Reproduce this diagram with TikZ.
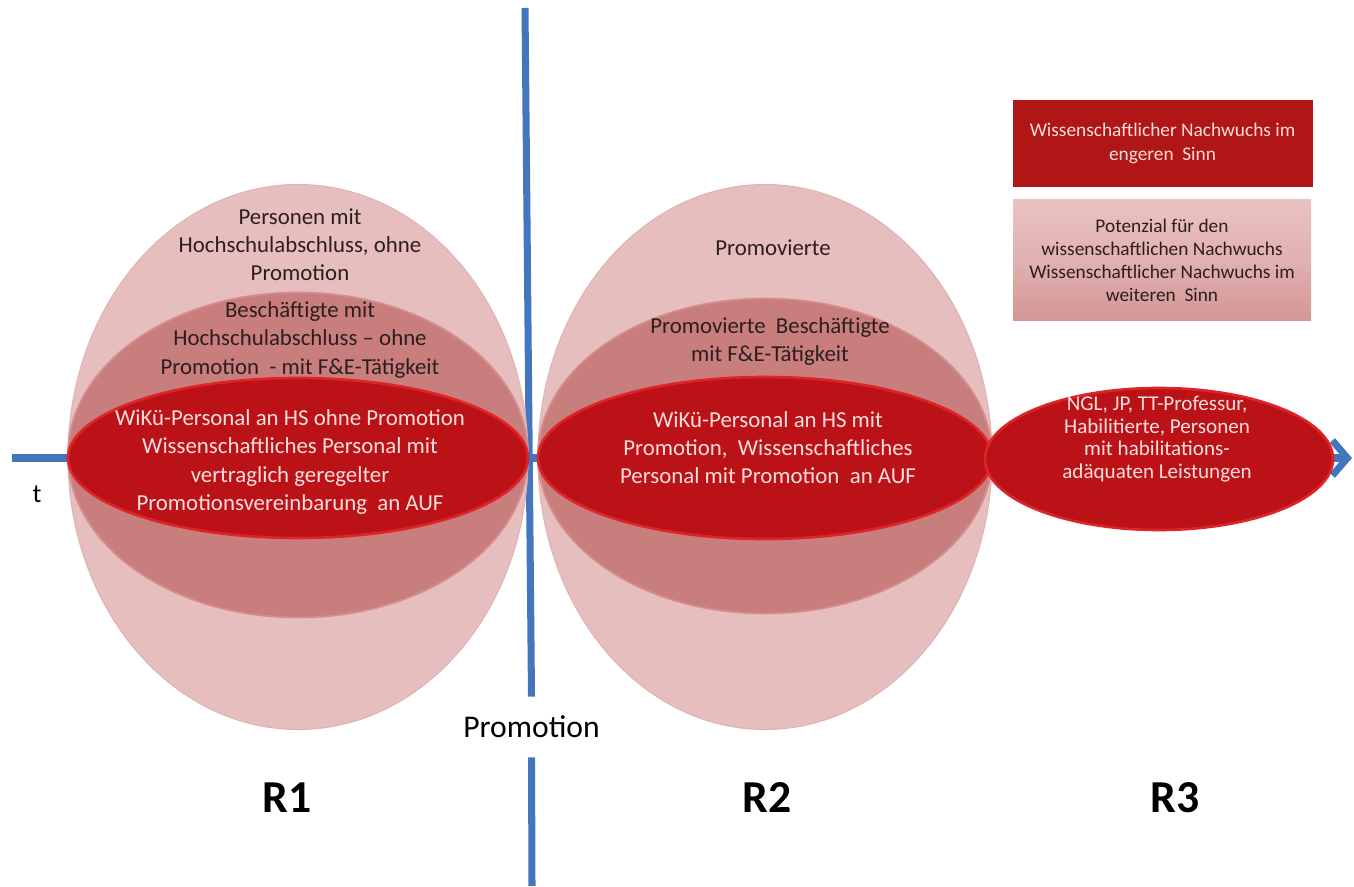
\documentclass[tikz,border=0pt]{standalone}
\usepackage{fontspec}
\setmainfont{Carlito}
\usetikzlibrary{arrows.meta,shapes.geometric,positioning}

\definecolor{axisblue}{RGB}{68,118,190}
\definecolor{outerpink}{RGB}{231,190,190}
\definecolor{outeredge}{RGB}{224,178,178}
\definecolor{midpink}{RGB}{201,126,126}
\definecolor{midedge}{RGB}{214,140,140}
\definecolor{innerred}{RGB}{186,18,22}
\definecolor{inneredge}{RGB}{222,36,40}
\definecolor{legendred}{RGB}{176,22,22}
\definecolor{legendlight}{RGB}{234,194,194}
\definecolor{legenddark}{RGB}{212,150,150}
\definecolor{darktext}{RGB}{45,30,30}
\definecolor{lighttext}{RGB}{250,222,222}

\tikzset{
  axis/.style={axisblue, line width=4pt},
  outerlayer/.style={ellipse, fill=outerpink, draw=outeredge, line width=0.6pt, inner sep=0pt},
  midlayer/.style={ellipse, fill=midpink, draw=midedge, line width=1pt, inner sep=0pt},
  innerlayer/.style={ellipse, fill=innerred, draw=inneredge, line width=1.5pt, inner sep=0pt},
  layertext/.style={align=center, inner sep=0pt, font=\fontsize{13}{16}\selectfont},
  legendbox/.style={minimum width=6cm, inner sep=0pt, align=center,
    font=\fontsize{11}{13.2}\selectfont},
  regionlabel/.style={font=\fontsize{26}{30}\selectfont\bfseries}
}

\begin{document}
\begin{tikzpicture}
\useasboundingbox (0,0) rectangle (27.08,17.72);

% zeitachse und promotion
\coordinate (tstart) at (0.24,8.56);
\coordinate (tend) at (27.04,8.56);
\coordinate (ptop) at (10.5,17.56);
\coordinate (pbot) at (10.64,0);
\draw[axis, -{Straight Barb[length=3mm,width=7mm]}] (tstart) -- (tend);
\node[minimum height=1.2cm, inner sep=0pt, font=\fontsize{18}{20}\selectfont] (prom) at (10.63,3.18) {Promotion};
\draw[axis] (ptop) -- (prom.north);
\draw[axis] (prom.south) -- (pbot);
\node[font=\fontsize{15}{18}\selectfont] (t) at (0.74,7.84) {t};

% R1
\node[outerlayer, minimum width=9.2cm, minimum height=10.9cm] (r1outer) at (5.96,8.58) {};
\node[midlayer, minimum width=9.2cm, minimum height=6.5cm] (r1mid) at (5.96,8.62) {};
\node[innerlayer, minimum width=9.2cm, minimum height=3.2cm] (r1inner) at (5.96,8.56) {};

% R2
\node[outerlayer, minimum width=9.08cm, minimum height=10.9cm] (r2outer) at (15.3,8.58) {};
\node[midlayer, minimum width=9.08cm, minimum height=6.3cm] (r2mid) at (15.3,8.6) {};
\node[innerlayer, minimum width=9.08cm, minimum height=3.24cm] (r2inner) at (15.3,8.56) {};

% R3
\node[innerlayer, minimum width=6.96cm, minimum height=2.84cm] (r3inner) at (23.18,8.54) {};

% texte
\node[layertext, text=darktext] (r1outertext) at (6.0,12.82)
  {Personen mit\\Hochschulabschluss, ohne\\Promotion};
\node[layertext, text=darktext] (r1midtext) at (6.0,10.92)
  {Beschäftigte mit\\Hochschulabschluss – ohne\\Promotion\ \ - mit F\&E-Tätigkeit};
\node[layertext, text=lighttext] (r1innertext) at (5.8,8.48)
  {WiKü-Personal an HS ohne Promotion\\Wissenschaftliches Personal mit\\vertraglich geregelter\\Promotionsvereinbarung\ \ an AUF};
\node[layertext, text=darktext] (r2outertext) at (15.46,12.76) {Promovierte};
\node[layertext, text=darktext] (r2midtext) at (15.4,10.89)
  {Promovierte\ \ Beschäftigte\\mit F\&E-Tätigkeit};
\node[layertext, text=lighttext] (r2innertext) at (15.36,8.76)
  {WiKü-Personal an HS mit\\Promotion,\ \ Wissenschaftliches\\Personal mit Promotion\ \ an AUF};
\node[align=center, inner sep=0pt, text=lighttext, font=\fontsize{12}{12.9}\selectfont] (r3innertext) at (23.14,8.94)
  {NGL, JP, TT-Professur,\\Habilitierte, Personen\\mit habilitations-\\adäquaten Leistungen};

% legende
\node[legendbox, fill=legendred, text=lighttext, minimum height=1.74cm] (legendnarrow) at (23.25,14.85)
  {Wissenschaftlicher Nachwuchs im\\engeren\ \ Sinn};
\node[legendbox, top color=legendlight, bottom color=legenddark, middle color=legendlight!60!legenddark,
  text=darktext, minimum width=5.96cm, minimum height=2.42cm] (legendwide) at (23.24,12.51)
  {Potenzial für den\\wissenschaftlichen Nachwuchs\\Wissenschaftlicher Nachwuchs im\\weiteren\ \ Sinn};

% regionen
\foreach \name/\x in {R1/5.74, R2/15.34, R3/23.5}
  \node[regionlabel] (\name) at (\x,1.76) {\name};

\end{tikzpicture}
\end{document}
